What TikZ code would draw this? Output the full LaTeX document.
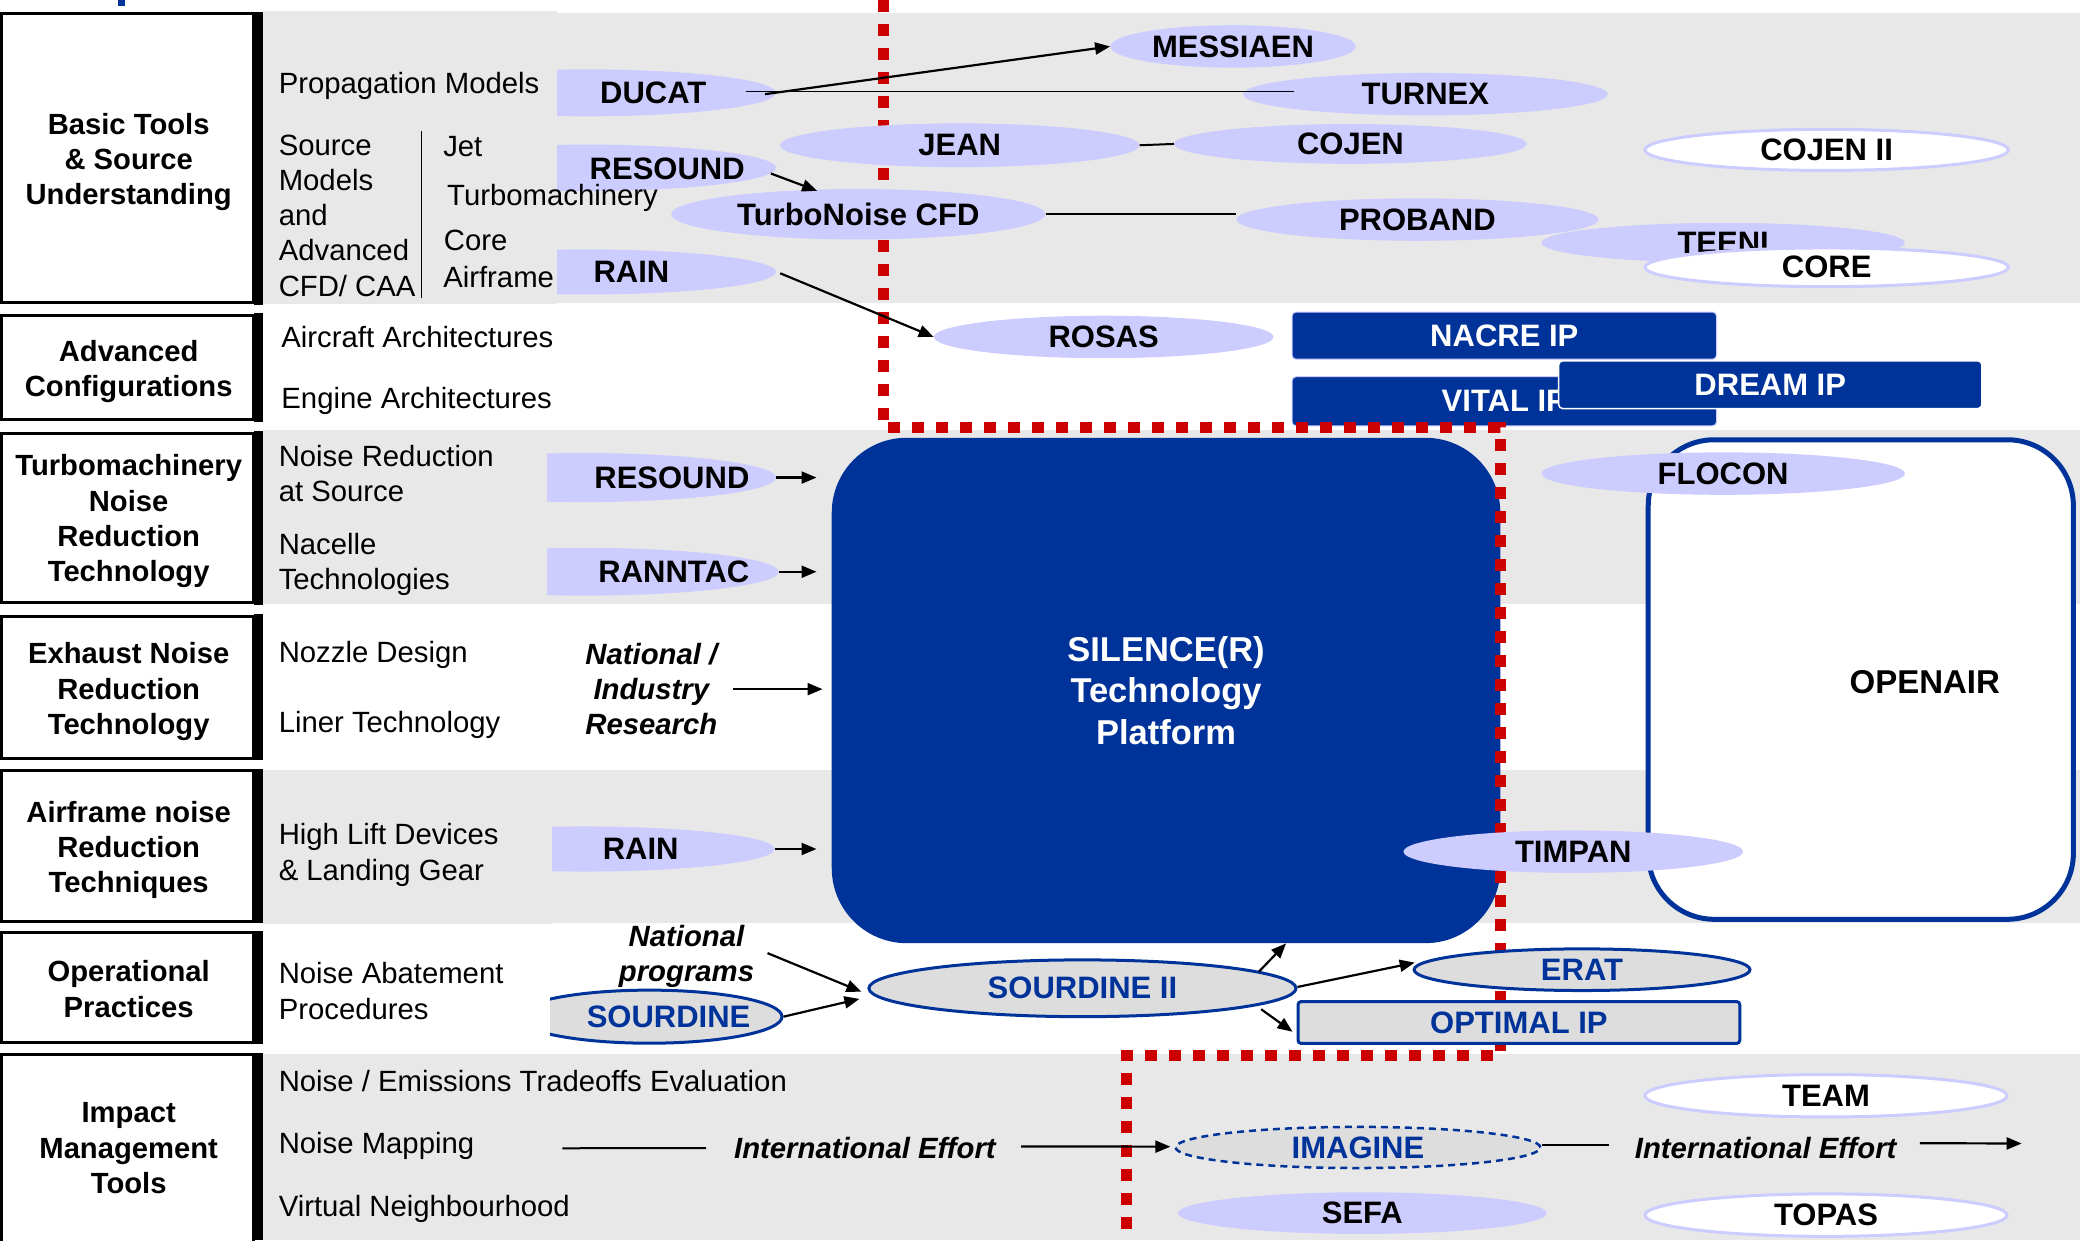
\documentclass[tikz,border=0pt]{standalone}
\usepackage{fontspec}
\setmainfont{Liberation Sans}
\usetikzlibrary{shapes.geometric,arrows.meta,calc}
\definecolor{lav}{HTML}{CCCCFF}
\definecolor{nblue}{HTML}{003399}
\definecolor{band}{HTML}{E8E8E8}
\definecolor{rred}{HTML}{CC0000}
\definecolor{egray}{HTML}{DDDDDD}
\newcommand\ftxt{\fontsize{29.3pt}{35.2pt}\selectfont}
\newcommand\flab{\fontsize{31pt}{36pt}\selectfont\bfseries}
\newcommand\fleft{\fontsize{29.2pt}{35.3pt}\selectfont\bfseries}
\newcommand\fbi{\fontsize{29.3pt}{35.2pt}\selectfont\bfseries\itshape}
\newcommand\fsil{\fontsize{34.5pt}{41.5pt}\selectfont\bfseries}
\newcommand\fopen{\fontsize{33pt}{40pt}\selectfont\bfseries}
\begin{document}
\begin{tikzpicture}[x=1.326531pt, y=-1.326531pt,
  ell/.style n args={2}{ellipse, inner sep=0pt, minimum width={2*#1*1.326531pt}, minimum height={2*#2*1.326531pt}},
  rbox/.style n args={2}{rectangle, inner sep=0pt, minimum width={#1*1.326531pt}, minimum height={#2*1.326531pt}},
  lv/.style={fill=lav, font=\flab},
  wo/.style={fill=white, draw=lav, line width=3pt, font=\flab},
  bo/.style={fill=egray, draw=nblue, line width=3pt, font=\flab, text=nblue},
  lbtxt/.style={font=\flab, inner sep=0pt},
  dsc/.style={font=\ftxt, inner sep=0pt},
  lbl/.style={font=\fleft, inner sep=0pt, align=center},
  bi/.style={font=\fbi, inner sep=0pt},
  lbox/.style={draw=black, line width=3pt},
  arr/.style={line width=2.2pt, -{Triangle[length=15pt,width=12pt]}},
  conn/.style={line width=2pt},
  thinl/.style={line width=1.8pt},
  redl/.style={draw=rred, line width=11pt, dash pattern=on 12pt off 12pt}
]
\fill[white] (0,0) rectangle (1568,934.77);
\useasboundingbox (0,0) rectangle (1568,934.77);

% bands
\fill[band] (198,9.5) rectangle (1568,228.6);
\fill[band] (198,324.5) rectangle (1568,455);
\fill[band] (198,580.5) rectangle (1568,695.5);
\fill[band] (198,794.6) rectangle (1568,934.77);

\fill[nblue] (89,0) rectangle (94.5,4.5);

% central platform
\node[rbox={504}{381}, fill=nblue, rounded corners=75pt, text=white, font=\fsil, align=center] (silence) at (879,520.5) {SILENCE(R)\\Technology\\Platform};

% OPENAIR
\node[rbox={320.5}{361.5}, fill=white, draw=nblue, line width=5pt, rounded corners=66pt] (openair) at (1402.75,512.25) {};
\node[font=\fopen, inner sep=0pt] (openairT) at (1451,514) {OPENAIR};

% IPs
\node[rbox={320}{35.6}, fill=nblue, draw=lav, line width=1pt, rounded corners=4pt, text=white, font=\flab] (nacre) at (1134,253) {NACRE IP};
\node[rbox={320}{37}, fill=nblue, draw=lav, line width=1pt, rounded corners=4pt, text=white, font=\flab] (vital) at (1134,302.5) {VITAL IP};
\node[rbox={319}{36}, fill=nblue, draw=white, line width=1.5pt, rounded corners=4pt, text=white, font=\flab] (dream) at (1334.5,290) {DREAM IP};

% red dotted boundary
\draw[redl] (666,0) -- (666,322) -- (1131,322) -- (1131,796) -- (849,796) -- (849,934.77);

% lavender ellipses
\node[ell={92.5}{16}, lv] (messiaen) at (929.5,35) {MESSIAEN};
\node[ell={137.5}{16}, lv] (turnex) at (1074.5,71) {TURNEX};
\node[ell={135.5}{16.5}, lv] (jean) at (723.5,109.5) {JEAN};
\node[ell={133}{15}, lv] (cojen) at (1018,108.5) {COJEN};
\node[ell={137}{15.5}, wo] (cojen2) at (1377,113) {COJEN II};
\node[ell={141}{19}, lv] (turbo) at (647,161.5) {TurboNoise CFD};
\node[ell={136.5}{16}, lv] (proband) at (1068.5,165.5) {PROBAND};
\node[ell={137}{15}, lv] (teeni) at (1299,183) {TEENI};
\node[ell={137}{14.6}, wo] (core) at (1377,201.5) {CORE};
\node[ell={128}{16}, lv] (rosas) at (832,254) {ROSAS};
\node[ell={137}{16}, lv] (flocon) at (1299,357) {FLOCON};
\node[ell={128}{16}, lv] (timpan) at (1186,642) {TIMPAN};
\node[ell={139}{15.7}, lv] (sefa) at (1027,914.5) {SEFA};
\node[ell={136.5}{16}, wo] (team) at (1376.5,826) {TEAM};
\node[ell={136.5}{16}, wo] (topas) at (1376.5,916) {TOPAS};

% partly hidden ellipses
\node[ell={143}{17.7}, fill=lav] (ducatE) at (442,70) {};
\node[ell={143}{17.5}, fill=lav] (resound1E) at (442,126.5) {};
\node[ell={143}{17}, fill=lav] (rain1E) at (442,205) {};
\node[ell={145}{18.5}, fill=lav] (resound3E) at (440,360) {};
\node[ell={147}{18}, fill=lav] (ranntacE) at (440,431) {};
\node[ell={144}{17}, fill=lav] (rain5E) at (440,640) {};
\node[ell={100}{20}, fill=egray, draw=nblue, line width=3pt] (sourdineE) at (489.5,766.4) {};

% blue outlined
\node[ell={161}{21.4}, bo] (sourdine2) at (816,745) {SOURDINE II};
\node[ell={126.6}{15.7}, bo] (erat) at (1192.6,731) {ERAT};
\node[ell={137.5}{15.5}, bo, line width=2.5pt, dash pattern=on 7pt off 5pt] (imagine) at (1023.7,865) {IMAGINE};
\node[rbox={333}{31.5}, fill=egray, draw=nblue, line width=3pt, rounded corners=3pt, font=\flab, text=nblue] (optimal) at (1145,770.8) {OPTIMAL IP};

% covers of the description area
\fill[band] (198.5,8.3) rectangle (420,229);
\fill[band] (198.5,324.5) rectangle (412.5,455);
\fill[band] (198.5,580.5) rectangle (416,696.5);
\fill[white] (198.5,696.5) rectangle (414.6,794.6);

% labels of partly hidden ellipses
\node[lbtxt] (ducat) at (492.5,70) {DUCAT};
\node[lbtxt] (resound1) at (503,127) {RESOUND};
\node[lbtxt] (rain1) at (476,205) {RAIN};
\node[lbtxt] (resound3) at (506.5,360) {RESOUND};
\node[lbtxt] (ranntac) at (508,431) {RANNTAC};
\node[lbtxt] (rain5) at (483,640) {RAIN};
\node[lbtxt, text=nblue] (sourdine) at (504,766.4) {SOURDINE};

% descriptions
\node[dsc, anchor=base west] (prop) at (210,70.7) {Propagation Models};
\node[dsc, anchor=west, align=left] (src) at (210,162.5) {Source\\Models\\and\\Advanced\\CFD/ CAA};
\node[dsc, anchor=base west] (jet) at (334,118.3) {Jet};
\node[dsc, anchor=base west] (turbm) at (337,154.7) {Turbomachinery};
\node[dsc, anchor=base west] (corel) at (334.5,188.7) {Core};
\node[dsc, anchor=base west] (airf) at (334,216.7) {Airframe};
\draw[line width=1.6pt] (317.6,99) -- (317.6,224.5);
\node[dsc, anchor=base west] (aircraft) at (212,262.2) {Aircraft Architectures};
\node[dsc, anchor=base west] (engine) at (212,307.7) {Engine Architectures};
\node[dsc, anchor=west, align=left] (nrs) at (210,357) {Noise Reduction\\at Source};
\node[dsc, anchor=west, align=left] (nac) at (210,425.5) {Nacelle\\Technologies};
\node[dsc, anchor=base west] (nozzle) at (210,499.3) {Nozzle Design};
\node[dsc, anchor=base west] (liner) at (210,552.2) {Liner Technology};
\node[dsc, anchor=west, align=left] (hld) at (210,644.5) {High Lift Devices\\\& Landing Gear};
\node[dsc, anchor=west, align=left] (nap) at (210,747) {Noise Abatement\\Procedures};
\node[dsc, anchor=base west] (netd) at (210,823.1) {Noise / Emissions Tradeoffs Evaluation};
\node[dsc, anchor=base west] (nmap) at (210,869.5) {Noise Mapping};
\node[dsc, anchor=base west] (vn) at (210,916.7) {Virtual Neighbourhood};

\node[bi, align=center] (natind) at (491,519.5) {National /\\Industry\\Research};
\node[bi, align=center] (nprog) at (517.5,721) {National\\programs};
\node[bi, anchor=base] (ie1) at (652,873.4) {International Effort};
\node[bi, anchor=base] (ie2) at (1331,873.2) {International Effort};

% left category boxes
\node[rbox={189.8}{218}, lbox] (b1) at (96.1,119) {};
\node[rbox={189.8}{78.7}, lbox] (b2) at (96.1,277.2) {};
\node[rbox={189.8}{127}, lbox] (b3) at (96.1,390.5) {};
\node[rbox={189.8}{106.5}, lbox] (b4) at (96.1,518.25) {};
\node[rbox={189.8}{113.5}, lbox] (b5) at (96.1,637.75) {};
\node[rbox={189.8}{82.5}, lbox] (b6) at (96.1,744.25) {};
\node[rbox={189.8}{142}, lbox] (b7) at (96.1,866) {};
\fill (191.5,9) rectangle (198.3,230);
\fill (191.5,236) rectangle (198.3,318);
\fill (191.5,325) rectangle (198.3,456);
\fill (191.5,463) rectangle (198.3,573);
\fill (191.5,580) rectangle (198.3,696);
\fill (191.5,702) rectangle (198.3,787);
\fill (191.5,794) rectangle (198.3,934.77);

\node[lbl] (t1) at (97,122) {Basic Tools\\\& Source\\Understanding};
\node[lbl] (t2) at (97,280) {Advanced\\Configurations};
\node[lbl] (t3) at (97,393) {Turbomachinery\\Noise\\Reduction\\Technology};
\node[lbl] (t4) at (97,521.5) {Exhaust Noise\\Reduction\\Technology};
\node[lbl] (t5) at (97,640.8) {Airframe noise\\Reduction\\Techniques};
\node[lbl] (t6) at (97,745.5) {Operational\\Practices};
\node[lbl] (t7) at (97,865.5) {Impact\\Management\\Tools};

% connectors
\draw[arr] ($(ducatE.east)+(-8.5,1)$) -- (messiaen.west);
\draw[thinl] ($(ducatE.east)+(-23,-1)$) -- ($(turnex.west)+(38.5,-2)$);
\draw[conn] (jean.east) -- (cojen.west);
\draw[arr] ($(resound1E.east)+(-4,4.3)$) -- ($(turbo.north)+(-31,1.5)$);
\draw[conn] (turbo.east) -- (turbo.east -| proband.west);
\draw[arr] ($(rain1E.east)+(3,1)$) -- (rosas.west);
\draw[arr, shorten >=15pt] (resound3E.east) -- (resound3E.east -| silence.west);
\draw[arr, shorten >=15pt] (ranntacE.east) -- (ranntacE.east -| silence.west);
\draw[arr, shorten >=9pt] ($(natind.east)+(12,0)$) -- (natind.east -| silence.west);
\draw[arr, shorten >=15pt] (rain5E.east) -- (rain5E.east -| silence.west);
\draw[arr] ($(nprog.east)+(10,-2.5)$) -- ($(sourdine2.west)+(-4.5,2.6)$);
\draw[arr] (sourdineE.east) -- ($(sourdine2.west)+(-6,8)$);
\draw[arr] ($(sourdine2.center)+(133,-12.5)$) -- ($(silence.south)+(90.5,0)$);
\draw[arr] ($(sourdine2.east)+(0,-1)$) -- ($(erat.west)+(1.6,-5.3)$);
\draw[arr] ($(sourdine2.center)+(134.7,15.8)$) -- ($(optimal.west)+(-3,7)$);
\coordinate (nml) at (424,865.6);
\draw[conn] (nml) -- ($(ie1.west)+(-21,0)$);
\draw[arr] ($(ie1.east)+(19,-1.3)$) -- ($(imagine.west)+(-3,-0.6)$);
\draw[conn, shorten >=26pt] ($(imagine.east)+(0,-2)$) -- ($(imagine.east -| ie2.west)+(0,-2)$);
\coordinate (ieend) at (1524,862);
\draw[arr] ($(ie2.east)+(17.6,-3.5)$) -- (ieend);
\end{tikzpicture}
\end{document}
